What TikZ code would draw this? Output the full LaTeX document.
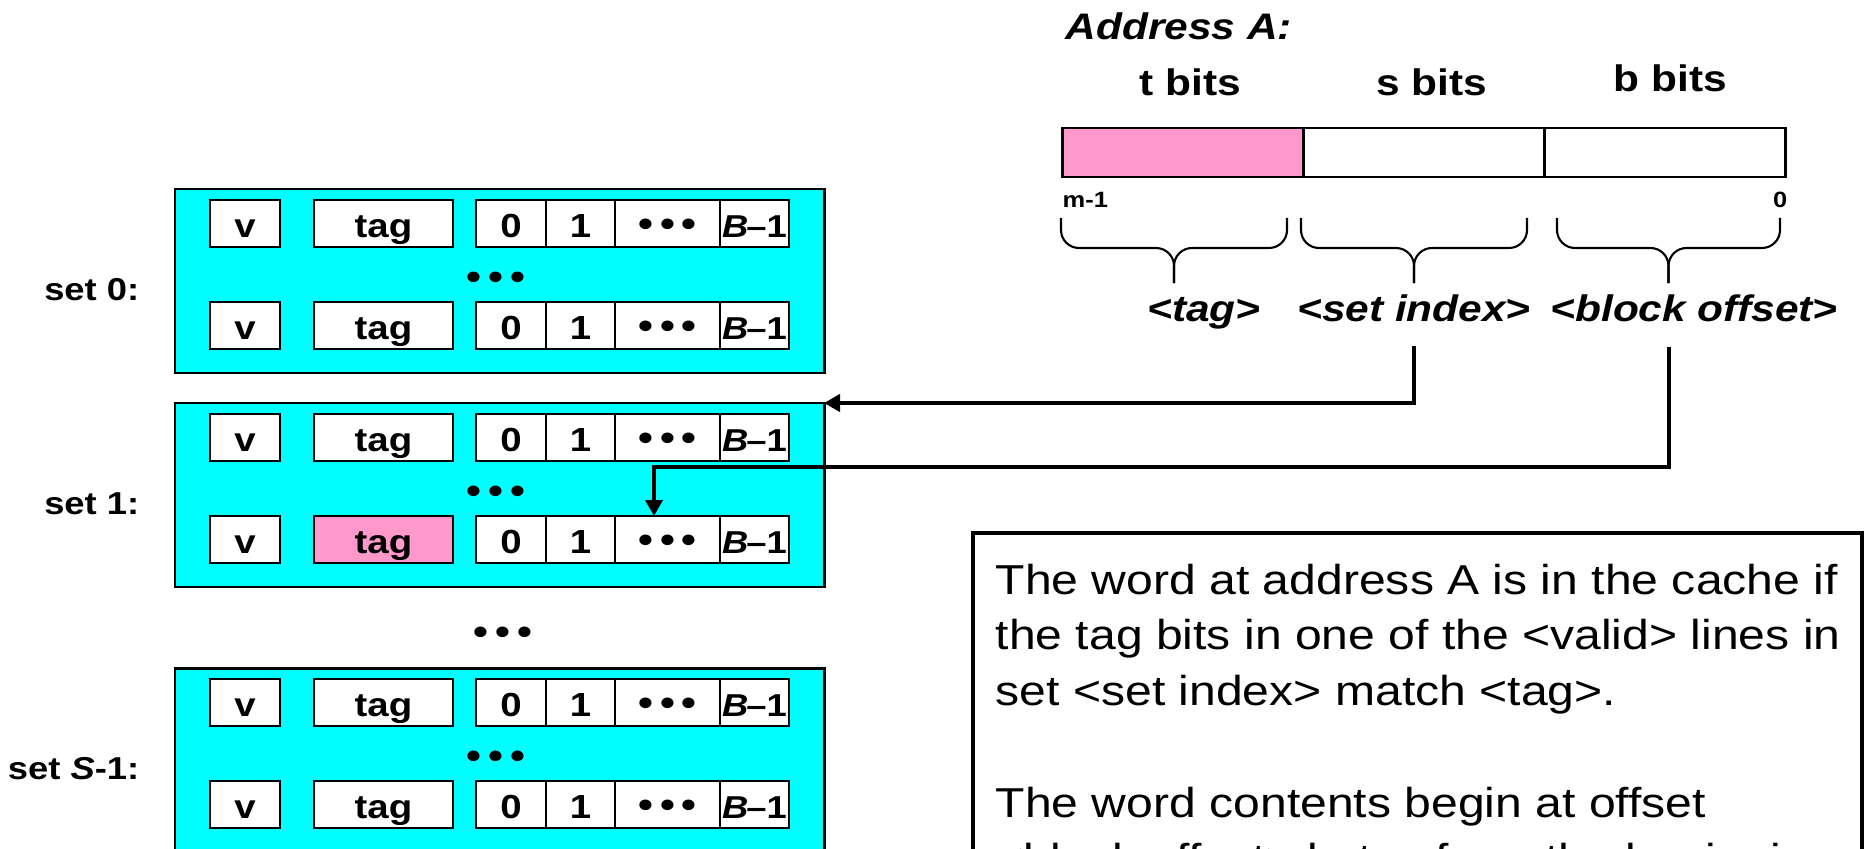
\documentclass[tikz,border=0pt]{standalone}
\usepackage{fontspec}
\setmainfont{Liberation Sans}[FakeStretch=1.15]
\usetikzlibrary{arrows.meta, positioning}

\definecolor{setcyan}{HTML}{00FFFF}
\definecolor{tagpink}{HTML}{FF99CC}
\newcommand{\threedots}{•\kern0.07cm•\kern0.07cm•}

\begin{document}
\begin{tikzpicture}[
    cell/.style={draw, line width=0.7pt, fill=white, anchor=north west, outer sep=0pt,
      minimum height=0.47cm, inner sep=0pt, text height=0.37cm, text depth=0.10cm,
      font=\fontsize{9.5}{10}\selectfont\bfseries},
    setbox/.style={draw, line width=0.85pt, fill=setcyan, anchor=north west, outer sep=0pt,
      minimum width=6.49cm, minimum height=1.84cm, inner sep=0pt},
    setlabel/.style={anchor=base east, inner sep=0pt, font=\fontsize{9}{10}\selectfont\bfseries},
    bullets/.style={anchor=base, inner sep=0pt, font=\fontsize{10.5}{12}\selectfont\bfseries},
    field/.style={draw, line width=0.85pt, outer sep=0pt, minimum width=2.41cm,
      minimum height=0.49cm, inner sep=0pt},
    bitlabel/.style={anchor=base, inner sep=0pt, font=\fontsize{10.5}{12}\selectfont\bfseries},
    hint/.style={anchor=base, inner sep=0pt, font=\fontsize{10.5}{12}\selectfont\bfseries\itshape},
    brc/.style={line width=0.6pt, rounded corners=0.18cm},
    conn/.style={line width=1.4pt, -{Triangle[length=0.16cm, width=0.17cm]}}
  ]

    \useasboundingbox (0,0) rectangle (18.74,-8.49);
    \clip (0,0) rectangle (18.74,-8.49);

    % the cache: three sets, two lines drawn in each
    \foreach \s/\ytop/\lab in {0/-1.89/{set 0:}, 1/-4.03/{set 1:}, 2/-6.68/{set \textit{S}-1:}} {
      \node[setbox] (set\s) at (1.75,\ytop) {};
      \node[setlabel] (lab\s) at ([xshift=-0.35cm, yshift=-0.19cm]set\s.west) {\lab};
      \node[bullets] (gap\s) at ([shift={(3.21,-1.00)}]set\s.north west) {\threedots};
      \foreach \r/\dy in {1/-0.11, 2/-1.13} {
        \ifnum\s\r=12 \def\tagfill{tagpink}\else\def\tagfill{white}\fi
        \node[cell, minimum width=0.70cm] (v\s\r) at ([shift={(0.35,\dy)}]set\s.north west) {v};
        \node[cell, minimum width=1.39cm, fill=\tagfill] (tag\s\r) at ([shift={(1.39,\dy)}]set\s.north west) {tag};
        \node[cell, minimum width=0.70cm] (blk\s\r-0) at ([shift={(3.01,\dy)}]set\s.north west) {0};
        \node[cell, minimum width=0.69cm] (blk\s\r-1) at ([shift={(3.71,\dy)}]set\s.north west) {1};
        \node[cell, minimum width=1.05cm, font=\fontsize{10.5}{12}\selectfont\bfseries]
          (blk\s\r-dots) at ([shift={(4.40,\dy)}]set\s.north west) {\raisebox{0.01cm}{\threedots}};
        \node[cell, minimum width=0.69cm, font=\fontsize{9}{10}\selectfont\bfseries]
          (blk\s\r-last) at ([shift={(5.45,\dy)}]set\s.north west) {\textit{B}\kern-0.02cm–1};
      }
    }
    % more sets in between
    \node[bullets] (more) at (5.03,-6.44) {\threedots};

    % the address, split in three fields
    \node[anchor=base west, inner sep=0pt, font=\fontsize{10.5}{12}\selectfont\bfseries\itshape]
      (addrA) at (10.65,-0.40) {Address A:};
    \node[field, fill=tagpink, anchor=north west] (tfield) at (10.62,-1.28) {};
    \node[field, right=0pt of tfield] (sfield) {};
    \node[field, right=0pt of sfield] (bfield) {};
    \node[bitlabel] (tbits) at ([xshift=0.08cm, yshift=0.32cm]tfield.north) {t bits};
    \node[bitlabel] (sbits) at ([xshift=0.08cm, yshift=0.32cm]sfield.north) {s bits};
    \node[bitlabel] (bbits) at ([xshift=0.06cm, yshift=0.36cm]bfield.north) {b bits};
    \node[anchor=base west, inner sep=0pt, font=\fontsize{6.3}{7}\selectfont\bfseries]
      (msb) at ([yshift=-0.30cm]tfield.south west) {m-1};
    \node[anchor=base east, inner sep=0pt, font=\fontsize{6.3}{7}\selectfont\bfseries]
      (lsb) at ([xshift=0.03cm, yshift=-0.30cm]bfield.south east) {0};

    % braces under the fields
    \foreach \a/\m/\b/\n in {10.61/11.74/12.87/T, 13.01/14.14/15.27/S, 15.57/16.685/17.80/B} {
      \coordinate (tip\n) at (\m,-2.83);
      \draw[brc] (\a,-2.18) -- (\a,-2.48) -- (\m,-2.48) -- (tip\n);
      \draw[brc] (\b,-2.18) -- (\b,-2.48) -- (\m,-2.48) -- (tip\n);
    }
    \node[hint] (hTag) at (12.04,-3.21) {<tag>};
    \node[hint] (hIdx) at (14.14,-3.21) {<set index>};
    \node[hint] (hOff) at (16.94,-3.21) {<block offset>};

    % set index picks the set
    \draw[conn] ([yshift=-0.25cm]hIdx.base) |- (set1.north east);
    % block offset picks the word in the line
    \coordinate (offOut) at (16.69,-3.47);
    \coordinate (bend) at (6.54,-4.67);
    \draw[conn] (offOut) |- (bend) -- (bend |- blk12-dots.north);

    % explanation
    \node[draw, line width=1.1pt, outer sep=0pt, anchor=north west, minimum width=8.89cm,
      minimum height=4cm] (note) at (9.73,-5.33) {};
    \node[anchor=north west, inner sep=0pt, align=left, font=\fontsize{11.9}{15.9}\selectfont]
      (noteText) at ([xshift=0.22cm, yshift=-0.30cm]note.north west)
      {The word at address A is in the cache if\\
       the tag bits in one of the <valid> lines in\\
       set <set index> match <tag>.\\[15.9pt]
       The word contents begin at offset\\
       <block offset> bytes from the beginning of the block.};

\end{tikzpicture}
\end{document}
